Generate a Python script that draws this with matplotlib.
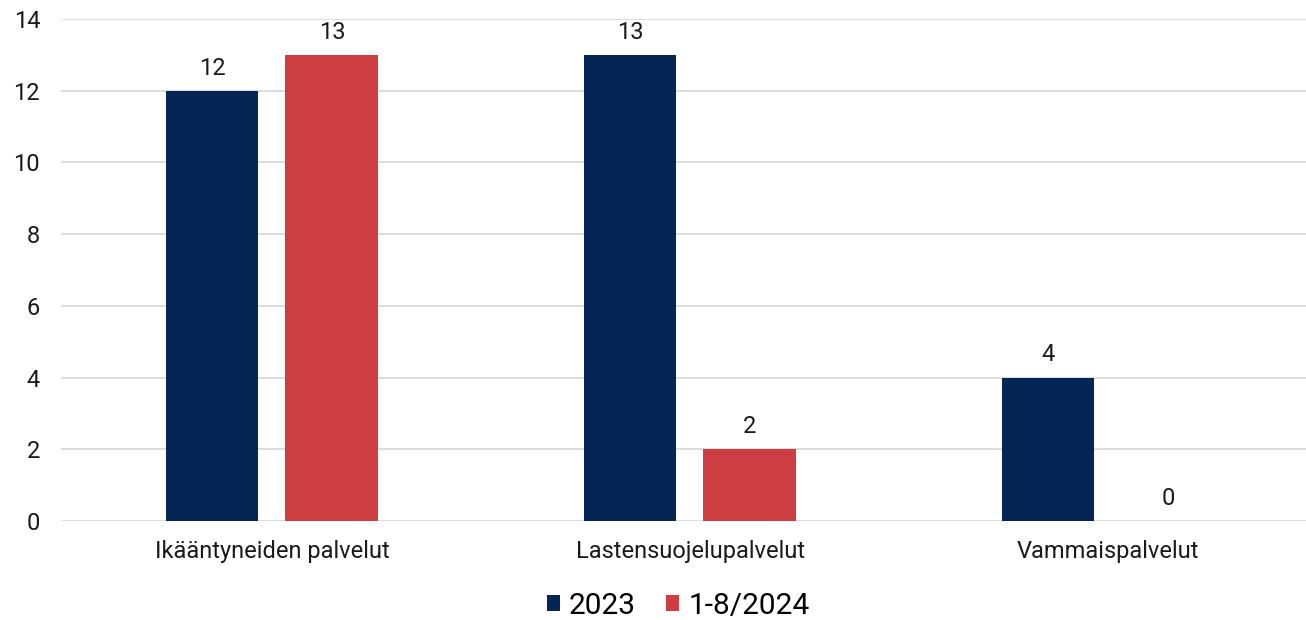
import matplotlib.pyplot as plt
import numpy as np

categories = ['Ikääntyneiden palvelut', 'Lastensuojelupalvelut', 'Vammaispalvelut']
series_names = ['2023', '1-8/2024']
values_2023 = [12, 13, 4]
values_2024 = [13, 2, 0]
colors = ['#052654', '#CC3E42']

plt.rcParams['font.family'] = ['Roboto', 'DejaVu Sans']

fig = plt.figure(figsize=(13.06, 6.2), dpi=100)
ax = fig.add_axes([61 / 1306, 1 - 521 / 620, 1254 / 1306, 502 / 620])

x = np.arange(len(categories))
w = 0.222
b1 = ax.bar(x - 0.144, values_2023, w, color=colors[0], label=series_names[0], zorder=3)
b2 = ax.bar(x + 0.143, values_2024, w, color=colors[1], label=series_names[1], zorder=3)

for bars in (b1, b2):
    for r in bars:
        ax.annotate(str(int(r.get_height())), (r.get_x() + r.get_width() / 2, r.get_height()),
                    xytext=(0, 8), textcoords='offset points', ha='center', va='bottom',
                    fontsize=17, color='#1a1a1a')

ax.set_xlim(-0.505, 2.495)
ax.set_ylim(0, 14)
ax.set_yticks(range(0, 15, 2))
ax.set_xticks(x)
ax.set_xticklabels(categories)
ax.tick_params(axis='both', length=0, labelsize=17, colors='#1a1a1a')
ax.tick_params(axis='y', pad=15)
ax.tick_params(axis='x', pad=14)
ax.yaxis.grid(True, color='#d9d9d9', linewidth=1.3, zorder=0)
for s in ax.spines.values():
    s.set_visible(False)

fig.legend(loc='center', bbox_to_anchor=(678 / 1306, 1 - 606 / 620), ncol=2, frameon=False,
           fontsize=21.5, handlelength=0.45, handleheight=0.45, handletextpad=0.3, columnspacing=1.0)

fig.savefig('out.png', dpi=100)
